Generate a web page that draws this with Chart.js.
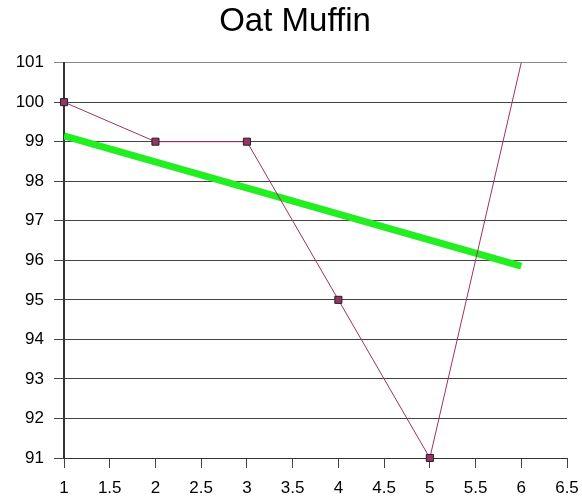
<!DOCTYPE html>
<html>
<head>
<meta charset="utf-8">
<script src="https://cdn.jsdelivr.net/npm/chart.js@4"></script>
<style>
	html, body { margin: 0; padding: 0; background: #fff; }
	#wrap { width: 582px; height: 502px; }
</style>
</head>
<body>
<div id="wrap"><canvas id="chart" width="582" height="502"></canvas></div>
<script>
'use strict';

const title = 'Oat Muffin';
const xValues = [1, 2, 3, 4, 5, 6];
const yValues = [100, 99, 99, 95, 91, 101];
const trendX = [1, 6];
const trendY = [99.15, 95.85];

const toPoints = (xs, ys) => xs.map((x, i) => ({x: x, y: ys[i]}));

const tickFont = {family: 'Liberation Sans, Arial, sans-serif', size: 17};

const ctx = document.getElementById('chart');
new Chart(ctx, {
	type: 'scatter',
	data: {
		datasets: [
			{
				data: toPoints(xValues, yValues),
				showLine: true,
				clip: false,
				borderColor: '#993366',
				borderWidth: 1,
				pointStyle: 'rect',
				pointRadius: yValues.map((v, i) => i == yValues.length - 1 ? 0 : 5),
				pointBackgroundColor: '#993366',
				pointBorderColor: '#222',
				pointBorderWidth: 1,
				order: 1
			},
			{
				data: toPoints(trendX, trendY),
				showLine: true,
				borderColor: '#22ee22',
				borderWidth: 7,
				pointRadius: 0,
				order: 2
			}
		]
	},
	options: {
		responsive: false,
		animation: false,
		layout: {padding: {left: 8, right: 0, top: 0, bottom: 0}},
		plugins: {
			legend: {display: false},
			tooltip: {enabled: false},
			title: {
				display: true,
				text: title,
				color: '#000',
				font: {family: 'Liberation Sans, Arial, sans-serif', size: 33, weight: 'normal'},
				padding: {top: 2, bottom: 21}
			}
		},
		scales: {
			x: {
				type: 'linear',
				min: 1,
				max: 6.5,
				ticks: {
					stepSize: 0.5,
					color: '#000',
					font: tickFont,
					padding: 10,
					maxRotation: 0,
					callback: (v) => String(v)
				},
				grid: {drawOnChartArea: false, drawTicks: true, tickLength: 10, color: '#444'},
				border: {color: '#333', width: 1},
				afterFit: (scale) => {
					scale.height = 44;
					scale.paddingRight = 15;
				}
			},
			y: {
				min: 91,
				max: 101,
				ticks: {stepSize: 1, color: '#000', font: tickFont, padding: 10},
				grid: {
					tickLength: 10,
					color: (c) => c.tick && c.tick.value == 101 ? '#888' : '#444',
					lineWidth: 1
				},
				border: {color: '#333', width: 2},
				afterFit: (scale) => { scale.width = 56; }
			}
		}
	}
});
</script>
</body>
</html>
